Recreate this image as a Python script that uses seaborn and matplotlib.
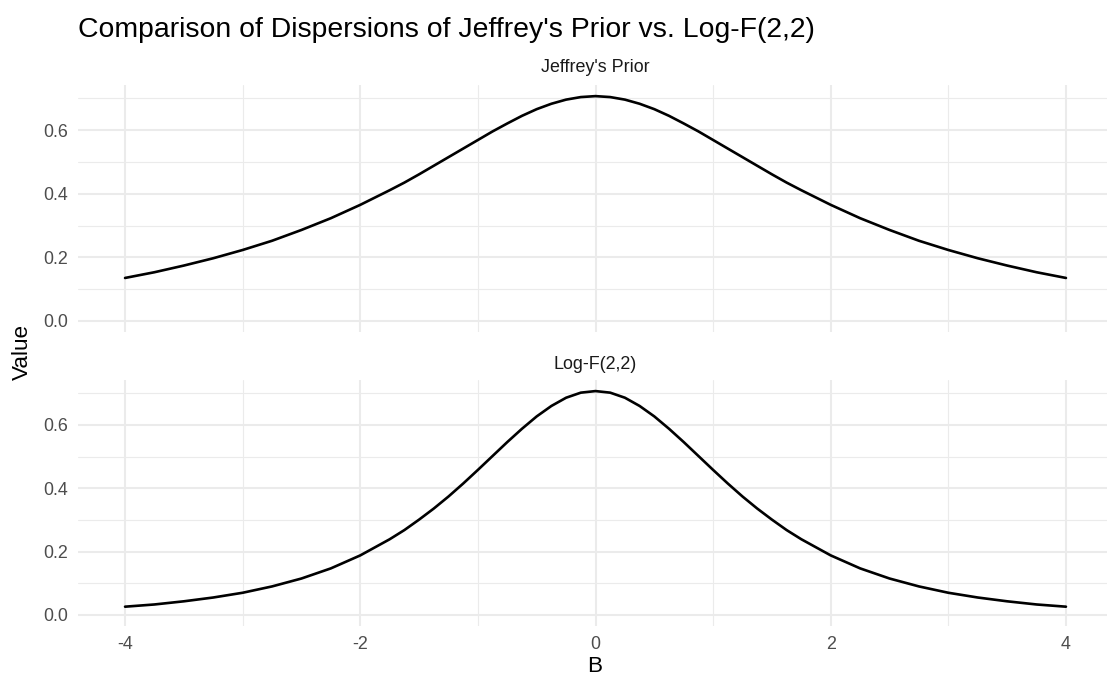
import numpy as np
import pandas as pd
import matplotlib
matplotlib.use("Agg")
import matplotlib.pyplot as plt
from matplotlib.ticker import MultipleLocator
import seaborn as sns

# ---- data ----
b_values = [-4.0, -3.75, -3.5, -3.25, -3.0, -2.75, -2.5, -2.25, -2.0, -1.75,
            -1.625, -1.5, -1.375, -1.25, -1.125, -1.0, -0.875, -0.75, -0.625, -0.5,
            -0.375, -0.25, -0.125, 0.0,
            0.125, 0.25, 0.375, 0.5, 0.625, 0.75, 0.875, 1.0, 1.125, 1.25,
            1.375, 1.5, 1.625, 1.75, 2.0, 2.25, 2.5, 2.75, 3.0, 3.25,
            3.5, 3.75, 4.0]
jeffreys_values = [0.135, 0.153, 0.174, 0.197, 0.223, 0.252, 0.286, 0.323, 0.365, 0.411,
                   0.435, 0.461, 0.488, 0.515, 0.542, 0.569, 0.596, 0.621, 0.645, 0.666,
                   0.683, 0.696, 0.704, 0.707,
                   0.704, 0.696, 0.683, 0.666, 0.645, 0.621, 0.596, 0.569, 0.542, 0.515,
                   0.488, 0.461, 0.435, 0.411, 0.365, 0.323, 0.286, 0.252, 0.223, 0.197,
                   0.174, 0.153, 0.135]
logf_values = [0.026, 0.033, 0.043, 0.055, 0.070, 0.090, 0.115, 0.147, 0.188, 0.239,
               0.268, 0.301, 0.336, 0.374, 0.415, 0.458, 0.502, 0.546, 0.588, 0.627,
               0.660, 0.686, 0.702, 0.707,
               0.702, 0.686, 0.660, 0.627, 0.588, 0.546, 0.502, 0.458, 0.415, 0.374,
               0.336, 0.301, 0.268, 0.239, 0.188, 0.147, 0.115, 0.090, 0.070, 0.055,
               0.043, 0.033, 0.026]
panel_names = ["Jeffrey's Prior", "Log-F(2,2)"]
x_ticks = [-4, -2, 0, 2, 4]
y_ticks = [0.0, 0.2, 0.4, 0.6]

df = pd.DataFrame({
    "B": b_values * 2,
    "Value": jeffreys_values + logf_values,
    "Prior": [panel_names[0]] * len(b_values) + [panel_names[1]] * len(b_values),
})

sns.set_theme(style="white")
plt.rcParams["font.family"] = ["Liberation Sans", "DejaVu Sans"]
plt.rcParams["axes.unicode_minus"] = False

W, H = 1107, 681
fig = plt.figure(figsize=(W / 100, H / 100), dpi=100)

def frac_axes(x0, x1, y0, y1):
    return fig.add_axes([x0 / W, 1 - y1 / H, (x1 - x0) / W, (y1 - y0) / H])

ax_top = frac_axes(78, 1113, 85, 332)
ax_bot = frac_axes(78, 1113, 380, 626)

grid_col = "#EBEBEB"
for ax, name in zip([ax_top, ax_bot], panel_names):
    sub = df[df["Prior"] == name]
    sns.lineplot(data=sub, x="B", y="Value", ax=ax, color="black", linewidth=1.9, legend=False)
    ax.set_xlim(-4.4, 4.4)
    ax.set_ylim(-0.035, 0.742)
    ax.set_xticks(x_ticks)
    ax.set_xticklabels([str(v) for v in x_ticks])
    ax.set_yticks(y_ticks)
    ax.set_yticklabels([f"{v:.1f}" for v in y_ticks])
    ax.xaxis.set_minor_locator(MultipleLocator(1))
    ax.yaxis.set_minor_locator(MultipleLocator(0.1))
    ax.grid(which="major", color=grid_col, linewidth=1.5)
    ax.grid(which="minor", color=grid_col, linewidth=0.8)
    ax.set_axisbelow(True)
    for s in ax.spines.values():
        s.set_visible(False)
    ax.tick_params(which="both", length=0, labelsize=12.9, labelcolor="#4D4D4D", pad=7)
    ax.set_xlabel("")
    ax.set_ylabel("")
    ax.set_facecolor("white")

ax_top.tick_params(labelbottom=False)

# strip labels
fig.text((78 + 1113) / 2 / W, 1 - 68 / H, panel_names[0], ha="center", va="center",
         fontsize=12.9, color="#1A1A1A")
fig.text((78 + 1113) / 2 / W, 1 - 364 / H, panel_names[1], ha="center", va="center",
         fontsize=12.9, color="#1A1A1A")

# axis titles and main title
fig.text(595 / W, 1 - 667 / H, "B", ha="center", va="center", fontsize=16.2, color="black")
fig.text(22 / W, 1 - 352 / H, "Value", ha="center", va="center", rotation=90,
         fontsize=16.2, color="black")
fig.text(78 / W, 1 - 30 / H, "Comparison of Dispersions of Jeffrey's Prior vs. Log-F(2,2)",
         ha="left", va="center", fontsize=20.4, color="black")

fig.savefig("out.png", dpi=100, facecolor="white")
